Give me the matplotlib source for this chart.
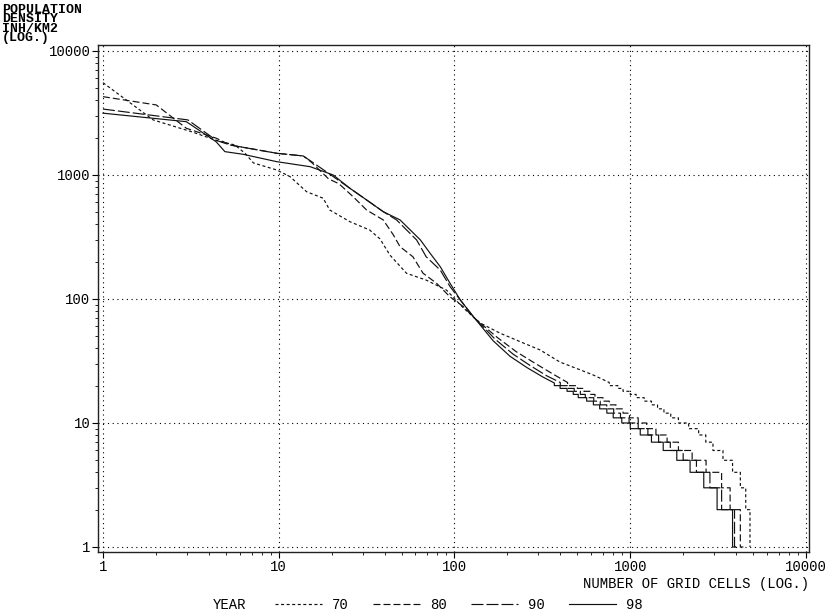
import numpy as np
import matplotlib
matplotlib.use('Agg')
import matplotlib.pyplot as plt
from matplotlib.ticker import LogLocator, NullFormatter

plt.rcParams['font.family'] = ['Liberation Mono', 'DejaVu Sans Mono']
plt.rcParams['lines.scale_dashes'] = False

years = ['70', '80', '90', '98']

# upper (smooth) part of each rank-size curve: rank, density (inh/km2)
rank_70 = [1, 1.93, 3.18, 4.42, 5.63, 6.43, 7.18, 9.74, 11.6, 14.4, 17.9, 19.5, 25.4, 32.9, 37.7,
           42.9, 53.4, 69, 90, 112, 140, 182, 236, 307, 398, 520, 615, 760]
dens_70 = [5550, 2780, 2235, 1900, 1745, 1496, 1250, 1097, 969, 733, 649, 522, 420, 360, 305,
           226, 161, 142, 118, 85, 64, 52.9, 45.3, 38.8, 31, 26.8, 24.4, 21.2]

rank_80 = [1, 2.01, 2.98, 4.42, 5.28, 9.74, 13.8, 15.5, 19.2, 22, 26.5, 31.6, 39.3, 44.8, 49,
           58, 66.3, 79, 94.3, 112, 130, 175, 225, 285, 360, 440]
dens_80 = [4280, 3670, 2380, 1977, 1745, 1496, 1423, 1250, 930, 850, 668, 522, 434, 330, 264,
           219, 161, 134, 104, 87, 70, 49, 37.5, 30.5, 25, 21.2]

rank_90 = [1, 3.04, 4.42, 5.28, 9.74, 13.8, 19.2, 25.4, 31.6, 39.3, 46.8, 60.9, 69, 83, 94.3,
           108, 128, 170, 215, 270, 335, 400]
dens_90 = [3400, 2780, 1900, 1745, 1496, 1423, 1032, 781, 629, 506, 434, 299, 219, 171, 126,
           98, 72, 47.5, 36, 29, 24, 21.2]

rank_98 = [1, 2.98, 4.4, 4.94, 6.27, 9.74, 15.1, 20.4, 25.4, 31.6, 39.3, 49, 64, 72.6, 83, 94.3,
           108, 128, 166, 207, 258, 318, 370]
dens_98 = [3150, 2690, 1855, 1542, 1468, 1280, 1166, 1000, 781, 629, 506, 434, 299, 234, 182, 134,
           98, 72, 46, 34.5, 28, 23.5, 21]

# staircase tail: integer density levels and the last rank holding that level
tail_levels = [20, 19, 18, 17, 16, 15, 14, 13, 12, 11, 10, 9, 8, 7, 6, 5, 4, 3, 2, 1]
tail_end_70 = [850, 910, 1000, 1080, 1200, 1320, 1430, 1555, 1700, 1880, 2150, 2450, 2690, 2955,
               3370, 3820, 4230, 4540, 4800, 4800]
tail_end_80 = [500, 545, 590, 630, 700, 760, 830, 910, 990, 1110, 1240, 1400, 1620, 1880,
               2250, 2700, 3310, 3700, 4230, 4400]
tail_end_90 = [440, 480, 520, 555, 620, 675, 735, 805, 880, 985, 1110, 1260, 1450, 1690,
               2000, 2380, 2840, 3310, 3920, 4050]
tail_end_98 = [399, 437, 474, 506, 565, 617, 670, 736, 800, 895, 1000, 1140, 1320, 1540,
               1840, 2190, 2620, 3120, 3820, 3950]

x_ticks = [1, 10, 100, 1000, 10000]
x_tick_labels = ['1', '10', '100', '1000', '10000']
y_ticks = [1, 10, 100, 1000, 10000]
y_tick_labels = ['1', '10', '100', '1000', '10000']


def build(ranks, dens, ends):
    xs = list(ranks)
    ys = list(dens)
    prev = ranks[-1]
    for d, e in zip(tail_levels, ends):
        xs += [prev, e]
        ys += [d, d]
        prev = e
    return xs, ys


series = [
    (rank_70, dens_70, tail_end_70, (0, (2.2, 1.8))),
    (rank_80, dens_80, tail_end_80, (0, (5.0, 2.2))),
    (rank_90, dens_90, tail_end_90, (0, (8.6, 2.2))),
    (rank_98, dens_98, tail_end_98, '-'),
]

fig = plt.figure(figsize=(8.36, 6.16), dpi=100)
ax = fig.add_axes([98 / 836, 1 - 552 / 616, (809 - 98) / 836, (552 - 45) / 616])

handles = []
for (r, d, e, ls), yr in zip(series, years):
    xs, ys = build(r, d, e)
    h, = ax.plot(xs, ys, color='#111111', lw=0.85, linestyle=ls, label=yr)
    handles.append(h)

ax.set_xscale('log')
ax.set_yscale('log')
ax.set_xlim(0.937, 10400)
ax.set_ylim(0.911, 11170)

ax.set_xticks(x_ticks, x_tick_labels)
ax.set_yticks(y_ticks, y_tick_labels)
ax.xaxis.set_minor_locator(LogLocator(base=10, subs=np.arange(2, 10), numticks=20))
ax.yaxis.set_minor_locator(LogLocator(base=10, subs=np.arange(2, 10), numticks=20))
ax.xaxis.set_minor_formatter(NullFormatter())
ax.yaxis.set_minor_formatter(NullFormatter())
ax.tick_params(which='major', direction='out', length=4, width=0.8, labelsize=10)
ax.tick_params(which='minor', direction='out', length=2.5, width=0.6)
ax.tick_params(axis='x', which='major', pad=2)
ax.tick_params(axis='y', which='major', pad=1.5)

ax.grid(True, which='major', color='black', linestyle=(0, (0.8, 2.6)), linewidth=0.8)
for s in ax.spines.values():
    s.set_linewidth(1.0)
    s.set_color('#222222')

fig.text(2 / 836, 1 - 4 / 616, 'POPULATION\nDENSITY\nINH/KM2\n(LOG.)', ha='left', va='top',
         fontsize=9.5, linespacing=0.72, fontweight='bold')
fig.text(809 / 836, 1 - 584 / 616, 'NUMBER OF GRID CELLS (LOG.)', ha='right', va='center',
         fontsize=10)

fig.text(213 / 836, 1 - 605 / 616, 'YEAR', ha='left', va='center', fontsize=10)
fig.legend(handles=handles, labels=years, loc='center left',
           bbox_to_anchor=(275 / 836, 1 - 605 / 616), ncol=4, frameon=False,
           handlelength=3.4, handletextpad=0.7, columnspacing=1.75, fontsize=10,
           borderpad=0, borderaxespad=0)

fig.savefig('out.png', dpi=100)
